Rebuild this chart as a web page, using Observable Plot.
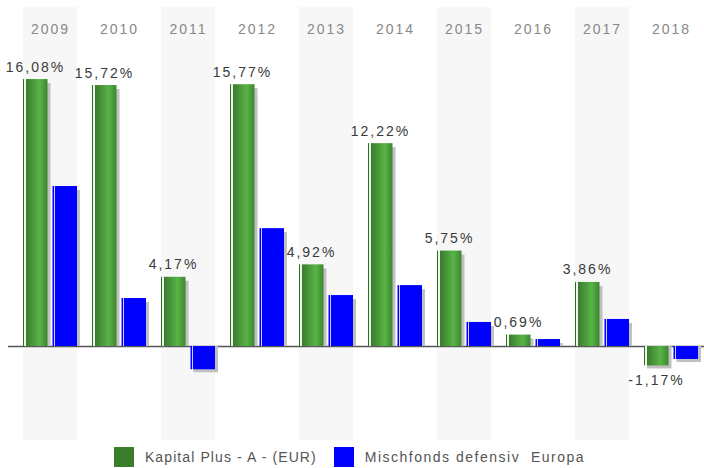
<!DOCTYPE html>
<html>
<head>
<meta charset="utf-8">
<script src="https://cdn.jsdelivr.net/npm/d3@7"></script>
<script src="https://cdn.jsdelivr.net/npm/@observablehq/plot@0.6"></script>
<style>
  body { margin: 0; background: #fff; font-family: "Liberation Sans", Arial, sans-serif; }
  #chart svg text { letter-spacing: 2px; }
  #legend { display: flex; justify-content: center; align-items: center; margin-top: 5px; height: 20px;
            font-size: 14px; color: #555; padding-left: 12px; }
  #legend .sw { width: 20px; height: 20px; display: inline-block; margin-right: 11px; }
  #legend .item { display: flex; align-items: center; margin-right: 17px; }
</style>
</head>
<body>
<div id="chart"></div>
<div id="legend"></div>
<script>
const years = ["2009","2010","2011","2012","2013","2014","2015","2016","2017","2018"];
const fundValues = [16.08, 15.72, 4.17, 15.77, 4.92, 12.22, 5.75, 0.69, 3.86, -1.17];
const benchValues = [9.64, 2.89, -1.40, 7.10, 3.07, 3.67, 1.45, 0.42, 1.63, -0.78];
const seriesNames = ["Kapital Plus - A - (EUR)", "Mischfonds defensiv  Europa"];
const seriesColors = ["#3a7d2a", "#0000ff"];
const yDomain = [-5.66, 20.42];

const fund = years.map((y, i) => ({year: y, value: fundValues[i]}));
const bench = years.map((y, i) => ({year: y, value: benchValues[i]}));
const shadedYears = years.filter((y, i) => i % 2 === 0);
const fmt = v => v.toFixed(2).replace(".", ",") + "%";

const half = 29.5;
const shadowMarks = (data, side) => {
  const inset = side === "left" ? {insetRight: half} : {insetLeft: half};
  return [
    Plot.barY(data.filter(d => d.value >= 0), {x: "year", y: "value", fill: "#c0c0c0", dx: 3, insetTop: 4, ...inset}),
    Plot.barY(data.filter(d => d.value < 0), {x: "year", y: "value", fill: "#c0c0c0", dx: 3, insetBottom: -3, ...inset})
  ];
};

const svg = Plot.plot({
  width: 704,
  height: 442,
  marginLeft: 8,
  marginRight: 0,
  marginTop: 7,
  marginBottom: 2,
  style: {fontFamily: "Liberation Sans, Arial, sans-serif", fontSize: "14px", background: "transparent"},
  x: {type: "band", domain: years, paddingInner: 0.2174, paddingOuter: 0.152, align: 0.714, axis: null},
  y: {domain: yDomain, axis: null},
  marks: [
    Plot.barY(shadedYears, {x: d => d, y1: () => yDomain[0], y2: () => yDomain[1], fill: "#f7f7f7"}),
    Plot.text(years, {x: d => d, frameAnchor: "top", dy: 17, text: d => d, fill: "#888", fontSize: 14}),
    Plot.ruleY([0], {stroke: "#555", strokeWidth: 1.5}),
    ...shadowMarks(fund, "left"),
    ...shadowMarks(bench, "right"),
    Plot.barY(fund, {x: "year", y: "value", fill: "url(#gGreen)", insetRight: half}),
    Plot.barY(bench, {x: "year", y: "value", fill: "url(#gBlue)", insetLeft: half}),
    Plot.text(fund.filter(d => d.value >= 0), {x: "year", y: "value", text: d => fmt(d.value), dx: -15, dy: -8, lineAnchor: "bottom", fill: "#3a3a3a", fontSize: 14}),
    Plot.text(fund.filter(d => d.value < 0), {x: "year", y: "value", text: d => fmt(d.value), dx: -15, dy: 9, lineAnchor: "top", fill: "#3a3a3a", fontSize: 14})
  ]
});

const defs = d3.select(svg).insert("defs", ":first-child");
const g = defs.append("linearGradient").attr("id", "gGreen").attr("x1", 0).attr("x2", 1).attr("y1", 0).attr("y2", 0);
[["0%", "#2f6b24"], ["4%", "#2f6b24"], ["4%", "#eef5ec"], ["11%", "#eef5ec"], ["11%", "#3a7a2c"],
 ["68%", "#58b447"], ["100%", "#3c862e"]].forEach(([o, c]) => g.append("stop").attr("offset", o).attr("stop-color", c));
const b = defs.append("linearGradient").attr("id", "gBlue").attr("x1", 0).attr("x2", 1).attr("y1", 0).attr("y2", 0);
[["0%", "#0000ff"], ["5%", "#0000ff"], ["5%", "#d0d0ff"], ["11%", "#d0d0ff"], ["11%", "#0000ff"], ["100%", "#0000ff"]]
  .forEach(([o, c]) => b.append("stop").attr("offset", o).attr("stop-color", c));

document.getElementById("chart").appendChild(svg);

const legend = document.getElementById("legend");
const legendSpacing = ["1.1px", "1.5px"];
seriesNames.forEach((name, i) => {
  const item = document.createElement("div");
  item.className = "item";
  const sw = document.createElement("span");
  sw.className = "sw";
  sw.style.background = seriesColors[i];
  const label = document.createElement("span");
  label.textContent = name;
  label.style.whiteSpace = "pre";
  label.style.letterSpacing = legendSpacing[i];
  item.appendChild(sw);
  item.appendChild(label);
  legend.appendChild(item);
});
</script>
</body>
</html>
